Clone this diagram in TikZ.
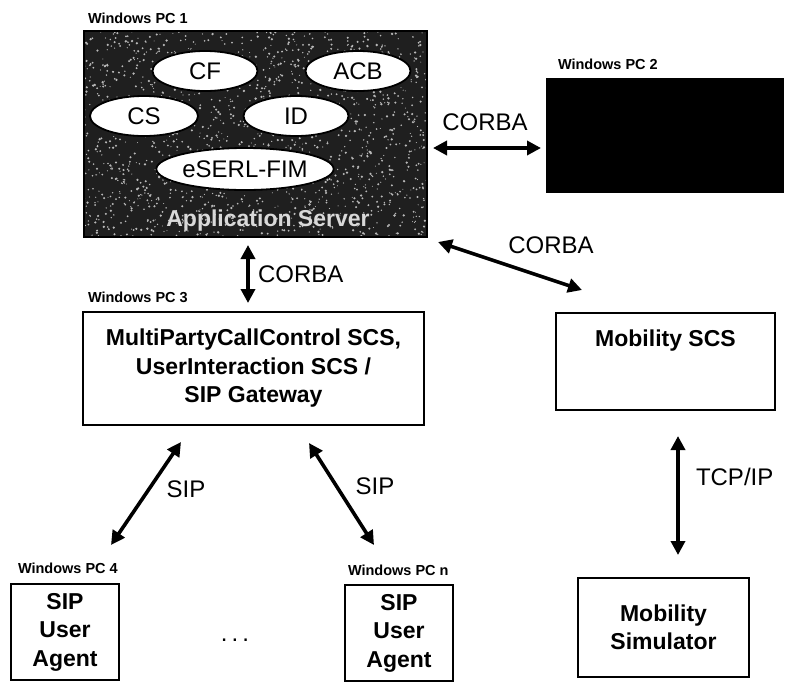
\documentclass[tikz,border=0pt]{standalone}
\usepackage{fontspec}
\setmainfont{Liberation Sans}
\usetikzlibrary{arrows.meta,shapes.geometric,calc}
\begin{document}
\begin{tikzpicture}[x=1pt,y=-1pt,
  every node/.style={inner sep=0pt, outer sep=0pt},
  big/.style={font=\fontsize{24pt}{28pt}\selectfont},
  pclabel/.style={font=\fontsize{14.5pt}{16pt}\selectfont\bfseries, anchor=west},
  box/.style={draw, line width=1.6pt, rectangle},
  svc/.style={ellipse, draw, line width=1.8pt, fill=white, big},
  boxtext/.style={font=\fontsize{23pt}{28.5pt}\selectfont\bfseries, align=center},
  conn/.style={line width=3.6pt,
    {Triangle[length=14pt,width=14pt]}-{Triangle[length=14pt,width=14pt]}}
]
\useasboundingbox (0,0) rectangle (785,681);

% ---- Windows PC 1: application server ----
\node[pclabel] (pc1lbl) at (88,18) {Windows PC 1};
\node[box, fill=black!88, minimum width=343pt, minimum height=206pt] (app) at (255.5,134) {};
\begin{scope}
  \clip (app.north west) rectangle (app.south east);
  % grainy texture of the server panel
  \pgfmathsetseed{42}
  \foreach \i in {1,...,1600} {
    \pgfmathsetmacro{\px}{84+343*rnd}
    \pgfmathsetmacro{\py}{31+206*rnd}
    \pgfmathsetmacro{\pr}{0.5+0.8*rnd}
    \fill[gray!55] (\px,\py) circle[radius=\pr];
  }
\end{scope}
\draw[line width=2pt] (app.north west) rectangle (app.south east);
\node[font=\fontsize{23pt}{28pt}\selectfont\bfseries, text=gray!30] (applbl) at (268,221) {Application Server};

\node[svc, minimum width=105pt, minimum height=40pt] (cf)  at (205,71)  {CF};
\node[svc, minimum width=105pt, minimum height=40pt] (acb) at (358,71)  {ACB};
\node[svc, minimum width=108pt, minimum height=40pt] (cs)  at (144,116) {CS};
\node[svc, minimum width=105pt, minimum height=40pt] (id)  at (296,116) {ID};
\node[svc, minimum width=150pt, minimum height=42pt] (fim) at (245,169) {eSERL-FIM};

% ---- Windows PC 2 ----
\node[pclabel] (pc2lbl) at (558,64) {Windows PC 2};
\node[fill=black, minimum width=238pt, minimum height=115pt] (pc2) at (665,135.5) {};

% ---- Windows PC 3: call control / SIP gateway ----
\node[pclabel] (pc3lbl) at (88,297) {Windows PC 3};
\node[box, boxtext, minimum width=341pt, minimum height=113pt] (mpcc) at (253.5,368.5)
  {MultiPartyCallControl SCS,\\UserInteraction SCS /\\SIP Gateway};

% ---- Mobility ----
\node[box, minimum width=219pt, minimum height=97pt] (mscs) at (665.5,361.5) {};
\node[boxtext] (mscslbl) at (665.5,341) {Mobility SCS};
\node[box, boxtext, minimum width=171pt, minimum height=99pt] (msim) at (663.5,627.5)
  {Mobility\\Simulator};

% ---- SIP user agents ----
\node[pclabel] (pc4lbl) at (18,568) {Windows PC 4};
\node[box, boxtext, minimum width=108pt, minimum height=96pt] (pc4) at (65,632)
  {SIP\\User\\Agent};
\node[pclabel] (pcnlbl) at (348,570) {Windows PC n};
\node[box, boxtext, minimum width=108pt, minimum height=96pt] (pcn) at (399,633)
  {SIP\\User\\Agent};
\node[big] (dots) at (235,640) {.\hspace{4pt}.\hspace{4pt}.};

% ---- connectors ----
\draw[conn] ([shift={(6,14)}]app.east) -- ([shift={(-5,12.5)}]pc2.west);
\node[big] (corba1) at (485,122) {CORBA};

\draw[conn] ([shift={(11,5)}]app.south east) -- ([shift={(26,-23)}]mscs.north west);
\node[big] (corba2) at (551,245) {CORBA};

\draw[conn] ([shift={(-7.5,8)}]app.south) -- ([shift={(-5.5,-9)}]mpcc.north);
\node[big, anchor=west] (corba3) at (258,274) {CORBA};

\draw[conn] ([shift={(-72.5,17)}]mpcc.south) -- ([shift={(46,-39)}]pc4.north);
\node[big] (sip1) at (186,489) {SIP};

\draw[conn] ([shift={(55.5,18)}]mpcc.south) -- ([shift={(-25,-40)}]pcn.north);
\node[big] (sip2) at (375,486) {SIP};

\draw[conn] ([shift={(12.5,26)}]mscs.south) -- ([shift={(14.5,-23)}]msim.north);
\node[big, anchor=west] (tcp) at (696,477) {TCP/IP};

\end{tikzpicture}
\end{document}
